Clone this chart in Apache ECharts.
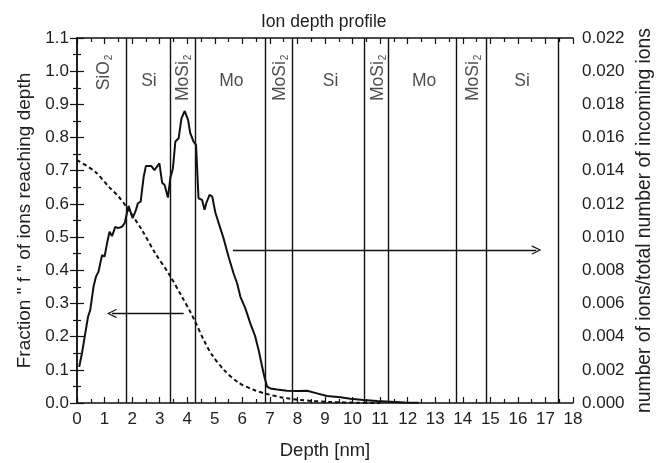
<!DOCTYPE html>
<html>
<head>
<meta charset="utf-8">
<script src="https://cdn.jsdelivr.net/npm/echarts@6/dist/echarts.min.js"></script>
<style>
  html, body { margin: 0; padding: 0; background: #fff; }
  #chart { width: 669px; height: 463px; }
</style>
</head>
<body>
<div id="chart"></div>
<script>
// ion distribution (right axis): number of ions / total incoming ions
var depthSolid = [0.08,0.18,0.30,0.40,0.48,0.60,0.69,0.78,0.91,1.00,1.09,1.18,1.27,1.39,1.49,1.63,1.73,1.87,2.02,2.14,2.21,2.31,2.42,2.50,2.70,2.81,2.99,3.09,3.18,3.30,3.39,3.48,3.57,3.69,3.79,3.91,4.03,4.11,4.23,4.32,4.41,4.54,4.63,4.69,4.81,4.91,5.02,5.08,5.20,5.32,5.50,5.68,5.81,5.93,6.11,6.29,6.47,6.59,6.72,6.80,6.90,7.02,7.26,7.62,7.99,8.35,8.71,9.07,9.56,9.92,10.40,10.89,11.37,11.90,12.40];
var ionsSolid = [0.00218,0.00300,0.00420,0.00520,0.00560,0.00702,0.00762,0.00792,0.00892,0.00882,0.00962,0.01032,0.01006,0.01062,0.01054,0.01062,0.01084,0.01188,0.01114,0.01164,0.01204,0.01214,0.01364,0.01428,0.01428,0.01404,0.01444,0.01328,0.01314,0.01238,0.01360,0.01414,0.01576,0.01596,0.01716,0.01760,0.01706,0.01626,0.01576,0.01556,0.01234,0.01224,0.01164,0.01204,0.01254,0.01244,0.01148,0.01154,0.01054,0.00992,0.00882,0.00782,0.00722,0.00640,0.00570,0.00480,0.00400,0.00320,0.00218,0.00158,0.00098,0.00088,0.00082,0.00074,0.00072,0.00074,0.00058,0.00042,0.00034,0.00026,0.00018,0.00012,0.00008,0.00003,0.00001];

// fraction f of ions reaching depth (left axis)
var depthDashed = [0,0.66,1.15,1.51,1.87,2.36,2.84,3.32,3.81,4.11,4.29,4.60,4.90,5.33,5.85,6.40,6.90,7.50,8.10,9.20,10.20,11.00];
var fraction = [0.732,0.697,0.652,0.622,0.582,0.521,0.451,0.391,0.320,0.275,0.245,0.190,0.145,0.100,0.062,0.040,0.027,0.016,0.009,0.003,0.001,0];

// layer boundaries [nm]
var boundaries = [1.8,3.4,4.3,6.84,7.82,10.44,11.3,13.78,14.86,17.45];

// layer labels
var layerNames = ['SiO2','Si','MoSi2','Mo','MoSi2','Si','MoSi2','Mo','MoSi2','Si'];
var layerX = [0.95,2.61,3.83,5.6,7.35,9.2,10.9,12.6,14.35,16.15];

// tick labels
var xTicks = [0,1,2,3,4,5,6,7,8,9,10,11,12,13,14,15,16,17,18];
var leftTicks = [0.0,0.1,0.2,0.3,0.4,0.5,0.6,0.7,0.8,0.9,1.0,1.1];
var rightTicks = [0.000,0.002,0.004,0.006,0.008,0.010,0.012,0.014,0.016,0.018,0.020,0.022];

var FONT = 'Liberation Sans';
var TXT = '#1e1e1e';

function pairs(xs, ys) {
  return xs.map(function (x, i) { return [x, ys[i]]; });
}

var labelData = layerNames.map(function (n, i) {
  var sub = n.slice(-1) === '2';
  if (sub) {
    return {
      value: [layerX[i], 1.05],
      label: {
        rotate: 90, align: 'right', verticalAlign: 'middle',
        formatter: '{m|' + n.slice(0, -1) + '}{s|2}'
      }
    };
  }
  return {
    value: [layerX[i], 0.97],
    label: { align: 'center', verticalAlign: 'middle', formatter: '{m|' + n + '}' }
  };
});

var chevron = 'path://M5,0 L10,9 L9,10 L5,2.5 L1,10 L0,9 Z';

function xAxisCfg(pos, showLabel) {
  return {
    type: 'value', position: pos, min: 0, max: 18, interval: 1,
    axisLine: { show: true, onZero: false, lineStyle: { color: '#111', width: 1.5 } },
    axisTick: { show: true, inside: true, length: 6, lineStyle: { color: '#111', width: 1.2 } },
    minorTick: { show: true, splitNumber: 2, length: 4, lineStyle: { color: '#111', width: 1.2 } },
    splitLine: { show: false },
    axisLabel: {
      show: showLabel, fontSize: 17, fontFamily: FONT, color: TXT, margin: 8,
      customValues: xTicks
    },
    name: showLabel ? 'Depth [nm]' : '',
    nameLocation: 'middle', nameGap: 38,
    nameTextStyle: { fontSize: 18.5, fontFamily: FONT, color: TXT }
  };
}

var chart = echarts.init(document.getElementById('chart'));
chart.setOption({
  animation: false,
  title: {
    text: 'Ion depth profile', left: 256, top: 8,
    textStyle: { fontSize: 17.5, fontWeight: 'normal', fontFamily: FONT, color: TXT }
  },
  grid: { left: 77, right: 96, top: 38, bottom: 60, outerBoundsMode: 'none' },
  xAxis: [xAxisCfg('bottom', true), xAxisCfg('top', false)],
  yAxis: [
    {
      type: 'value', position: 'left', min: 0, max: 1.1, interval: 0.1,
      axisLine: { show: true, lineStyle: { color: '#111', width: 1.5 } },
      axisTick: { show: true, inside: true, length: 7, lineStyle: { color: '#111', width: 1.2 } },
      minorTick: { show: true, splitNumber: 2, length: 4, lineStyle: { color: '#111', width: 1.2 } },
      splitLine: { show: false },
      axisLabel: {
        fontSize: 17, fontFamily: FONT, color: TXT, margin: 8,
        customValues: leftTicks,
        formatter: function (v) { return v.toFixed(1); }
      },
      name: 'Fraction " f " of ions reaching depth',
      nameLocation: 'middle', nameRotate: 90, nameGap: 42,
      nameTextStyle: { fontSize: 19, fontFamily: FONT, color: TXT }
    },
    {
      type: 'value', position: 'right', min: 0, max: 0.022, interval: 0.002,
      axisLine: { show: true, lineStyle: { color: '#111', width: 1.5 } },
      axisTick: { show: true, inside: true, length: 7, lineStyle: { color: '#111', width: 1.2 } },
      minorTick: { show: true, splitNumber: 2, length: 4, lineStyle: { color: '#111', width: 1.2 } },
      splitLine: { show: false },
      axisLabel: {
        fontSize: 17, fontFamily: FONT, color: TXT, margin: 9,
        customValues: rightTicks,
        formatter: function (v) { return v.toFixed(3); }
      },
      name: 'number of ions/total number of incoming ions',
      nameLocation: 'middle', nameRotate: 90, nameGap: 60,
      nameTextStyle: { fontSize: 19.3, fontFamily: FONT, color: TXT }
    }
  ],
  series: [
    {
      type: 'line', yAxisIndex: 1, symbol: 'none', silent: true,
      data: pairs(depthSolid, ionsSolid),
      lineStyle: { color: '#111', width: 2 },
      z: 3,
      markLine: {
        silent: true, symbol: ['none', 'none'], label: { show: false },
        lineStyle: { color: '#111', width: 1.4, type: 'solid' },
        data: boundaries.map(function (b) { return { xAxis: b }; })
      }
    },
    {
      type: 'line', yAxisIndex: 0, symbol: 'none', silent: true, smooth: 0.3,
      data: pairs(depthDashed, fraction),
      lineStyle: { color: '#111', width: 2, type: [4, 3] },
      z: 3,
      markLine: {
        silent: true, symbol: ['none', chevron], symbolSize: [9, 10],
        label: { show: false },
        lineStyle: { color: '#111', width: 1.3, type: 'solid' },
        data: [
          [{ coord: [3.87, 0.27] }, { coord: [1.27, 0.27] }],
          [{ coord: [5.66, 0.461] }, { coord: [16.67, 0.461] }]
        ]
      }
    },
    {
      type: 'scatter', yAxisIndex: 0, symbolSize: 0, silent: true,
      data: labelData,
      label: {
        show: true, position: 'inside',
        rich: {
          m: { fontSize: 17.5, lineHeight: 17, fontFamily: FONT, color: TXT, verticalAlign: 'top' },
          s: { fontSize: 10, lineHeight: 10, fontFamily: FONT, color: TXT, padding: [12, 0, 0, 1] }
        }
      }
    }
  ]
});
</script>
</body>
</html>
